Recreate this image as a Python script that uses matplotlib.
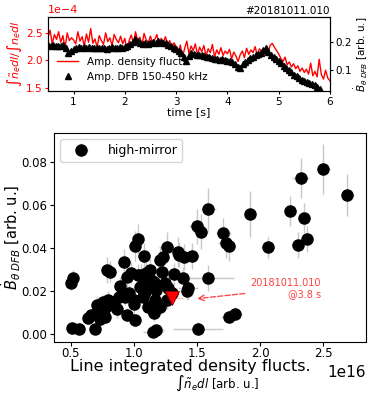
import matplotlib
matplotlib.use("Agg")
import matplotlib.pyplot as plt
import numpy as np

# --- panel superior: series temporales (#20181011.010) ---
# amplitud fluct. densidad (unidades 1e-4), muestreo uniforme 0.5 - 6.0 s
dens_amp = [2.42, 2.55, 2.30, 2.47, 2.38, 2.52, 2.33, 2.45, 2.22, 2.50, 2.36, 2.41,
            2.37, 2.30, 2.52, 2.35, 2.43, 2.26, 2.48, 2.33, 2.58, 2.31, 2.39, 2.24,
            2.45, 2.36, 2.29, 2.50, 2.34, 2.41, 2.27, 2.47, 2.38, 2.32, 2.44, 2.30,
            2.40, 2.18, 2.36, 2.46, 2.31, 2.52, 2.35, 2.42, 2.28, 2.49, 2.37, 2.33,
            2.44, 2.30, 2.38, 2.47, 2.26, 2.40, 2.33, 2.43, 2.29, 2.36, 2.21, 2.32,
            2.25, 2.15, 2.28, 2.05, 2.22, 2.35, 2.12, 2.26, 2.18, 2.30, 2.10, 2.24,
            2.16, 2.27, 2.08, 2.21, 2.14, 2.29, 2.06, 2.19, 2.11, 2.23, 2.09, 2.17,
            2.12, 2.20, 2.03, 2.15, 2.08, 1.98, 2.10, 2.17, 2.05, 2.22, 2.11, 2.19,
            2.14, 2.25, 2.09, 2.21, 2.17, 2.08, 2.20, 2.13, 2.27, 2.31, 2.24, 2.18,
            2.12, 2.04, 1.98, 2.06, 1.92, 1.97, 1.88, 1.94, 1.85, 1.90, 1.80, 1.86,
            1.78, 1.84, 1.75, 1.95, 1.72, 1.80, 1.70, 2.02, 1.74, 1.66, 1.82, 1.68, 1.63]
t_dens = np.linspace(0.5, 6.0, len(dens_amp))

# amplitud DFB 150-450 kHz, cada 0.05 s de 0.5 a 5.8 s
dfb_amp = [0.188, 0.186, 0.190, 0.184, 0.187, 0.185, 0.189, 0.178, 0.162, 0.168,
           0.174, 0.178, 0.182, 0.180, 0.183, 0.179, 0.181, 0.177, 0.180, 0.178,
           0.180, 0.177, 0.179, 0.176, 0.178, 0.181, 0.177, 0.180, 0.182, 0.179,
           0.183, 0.186, 0.192, 0.200, 0.210, 0.205, 0.196, 0.193, 0.197, 0.194,
           0.198, 0.201, 0.196, 0.203, 0.199, 0.195, 0.197, 0.190, 0.186, 0.180,
           0.175, 0.168, 0.160, 0.145, 0.132, 0.150, 0.160, 0.158, 0.155, 0.153,
           0.155, 0.150, 0.148, 0.146, 0.144, 0.140, 0.138, 0.136, 0.139, 0.135,
           0.133, 0.131, 0.128, 0.120, 0.112, 0.106, 0.120, 0.130, 0.136, 0.142,
           0.148, 0.153, 0.158, 0.162, 0.170, 0.180, 0.165, 0.155, 0.148, 0.140,
           0.132, 0.125, 0.116, 0.108, 0.100, 0.092, 0.084, 0.078, 0.072, 0.066,
           0.062, 0.058, 0.054, 0.050, 0.046, 0.040, 0.033]
t_dfb = np.linspace(0.5, 5.8, len(dfb_amp))

# --- panel inferior: base de datos high-mirror (x en unidades de 1e16) ---
mx = [0.50, 0.52, 0.51, 0.57, 0.69, 0.64, 0.66, 0.71, 0.72, 0.74, 0.73, 0.76, 0.78, 0.77,
      0.79, 0.81, 0.80, 0.84, 0.87, 0.89, 0.88, 0.92, 0.93, 0.95, 0.96, 0.95, 0.98, 1.00,
      1.01, 1.00, 1.01, 1.03, 1.03, 1.05, 1.06, 1.07, 1.08, 1.09, 1.10, 1.10, 1.11, 1.08,
      1.13, 1.13, 1.14, 1.15, 1.16, 1.17, 1.18, 1.16, 1.15, 1.18, 1.21, 1.23, 1.22, 1.21,
      1.25, 1.26, 1.26, 1.27, 1.30, 1.32, 1.35, 1.36, 1.39, 1.40, 1.43, 1.42, 1.46, 1.50,
      1.53, 1.59, 1.59, 1.51, 1.71, 1.73, 1.75, 1.75, 1.80, 1.92, 2.06, 2.24, 2.32, 2.35,
      2.30, 2.37, 2.50, 2.69]
my = [0.0236, 0.0260, 0.0027, 0.0025, 0.0023, 0.0075, 0.0088, 0.0135, 0.0120, 0.0098,
      0.0070, 0.0150, 0.0126, 0.0080, 0.0298, 0.0290, 0.0158, 0.0150, 0.0115, 0.0224,
      0.0174, 0.0337, 0.0174, 0.0089, 0.0190, 0.0265, 0.0284, 0.0158, 0.0065, 0.0140,
      0.0410, 0.0443, 0.0275, 0.0220, 0.0275, 0.0174, 0.0363, 0.0197, 0.0284, 0.0228,
      0.0127, 0.0190, 0.0298, 0.0127, 0.0252, 0.0112, 0.0244, 0.0158, 0.0205, 0.0100,
      0.0011, 0.0019, 0.0345, 0.0360, 0.0290, 0.0127, 0.0236, 0.0407, 0.0158, 0.0215,
      0.0190, 0.0280, 0.0384, 0.0370, 0.0260, 0.0357, 0.0213, 0.0200, 0.0362, 0.0501,
      0.0477, 0.0582, 0.0260, 0.0025, 0.0469, 0.0425, 0.0410, 0.0080, 0.0094, 0.0559,
      0.0404, 0.0573, 0.0728, 0.0542, 0.0413, 0.0444, 0.0770, 0.0648]
mxerr = [0.01, 0.01, 0.02, 0.02, 0.02, 0.03, 0.03, 0.03, 0.03, 0.03, 0.03, 0.03, 0.03, 0.03,
         0.03, 0.03, 0.03, 0.03, 0.04, 0.04, 0.04, 0.04, 0.04, 0.04, 0.04, 0.04, 0.04, 0.04,
         0.04, 0.04, 0.04, 0.04, 0.04, 0.05, 0.05, 0.05, 0.05, 0.05, 0.05, 0.05, 0.05, 0.05,
         0.05, 0.05, 0.05, 0.05, 0.05, 0.05, 0.05, 0.05, 0.08, 0.06, 0.05, 0.05, 0.05, 0.05,
         0.06, 0.06, 0.06, 0.06, 0.06, 0.06, 0.06, 0.06, 0.12, 0.06, 0.08, 0.06, 0.06, 0.06,
         0.06, 0.06, 0.20, 0.20, 0.06, 0.06, 0.06, 0.06, 0.06, 0.05, 0.05, 0.05, 0.07, 0.05,
         0.05, 0.05, 0.05, 0.05]
myerr = [0.003, 0.004, 0.002, 0.002, 0.002, 0.003, 0.003, 0.004, 0.003, 0.003, 0.003, 0.003,
         0.004, 0.003, 0.006, 0.005, 0.004, 0.004, 0.004, 0.004, 0.004, 0.006, 0.004, 0.003,
         0.004, 0.005, 0.005, 0.004, 0.003, 0.004, 0.007, 0.007, 0.005, 0.005, 0.005, 0.004,
         0.006, 0.004, 0.005, 0.004, 0.004, 0.004, 0.005, 0.004, 0.005, 0.004, 0.005, 0.004,
         0.004, 0.004, 0.002, 0.002, 0.006, 0.006, 0.005, 0.004, 0.005, 0.007, 0.004, 0.005,
         0.004, 0.005, 0.007, 0.006, 0.005, 0.006, 0.005, 0.004, 0.006, 0.008, 0.008, 0.010,
         0.006, 0.003, 0.007, 0.007, 0.007, 0.003, 0.003, 0.0105, 0.005, 0.007, 0.0093, 0.007,
         0.006, 0.006, 0.0116, 0.0099]

# descarga actual @3.8 s
cur_x, cur_y, cur_xerr = 1.30, 0.0166, 0.10

E16 = 1e16

fig = plt.figure(figsize=(3.69, 3.93), dpi=100)

# Panel superior
ax1 = fig.add_axes([0.130, 0.768, 0.764, 0.189])
ax1.plot(t_dens, np.array(dens_amp) * 1e-4, color="red", lw=1, label="Amp. density flucts.")
ax1.set_xlim(0.5, 6)
ax1.set_ylim(1.44e-4, 2.79e-4)
ax1.set_yticks([1.5e-4, 2.0e-4, 2.5e-4])
ax1.ticklabel_format(axis="y", style="sci", scilimits=(-4, -4))
ax1.tick_params(length=2.5, pad=1.5, labelsize=7.5)
ax1.tick_params(axis="y", colors="red")
ax1.yaxis.get_offset_text().set_color("red")
ax1.yaxis.get_offset_text().set_fontsize(8)
ax1.set_ylabel(r"$\int\tilde{n}_e dl/\int n_e dl$", color="red", fontsize=8, labelpad=1)
ax1.set_xlabel("time [s]", fontsize=8, labelpad=0)
ax1.set_title("#20181011.010", loc="right", fontsize=7.5, pad=2)

ax2 = ax1.twinx()
ax2.plot(t_dfb, dfb_amp, "^", color="black", ms=4, label="Amp. DFB 150-450 kHz")
ax2.set_ylim(0.025, 0.289)
ax2.set_yticks([0.1, 0.2])
ax2.tick_params(length=2.5, pad=1.5, labelsize=7.5)
ax2.set_ylabel(r"$\dot{B}_{\theta\ DFB}$ [arb. u.]", fontsize=7.5, labelpad=1)

h1, l1 = ax1.get_legend_handles_labels()
h2, l2 = ax2.get_legend_handles_labels()
ax2.legend(h1 + h2, l1 + l2, loc="lower left", frameon=False, fontsize=7.5)

# Panel inferior
ax = fig.add_axes([0.146, 0.130, 0.846, 0.532])
ax.errorbar(np.array(mx) * E16, my, xerr=np.array(mxerr) * E16, yerr=myerr, fmt="o",
            color="black", ms=8, ecolor="#c8c8c8", elinewidth=1, label="high-mirror")
ax.errorbar([cur_x * E16], [cur_y], xerr=[cur_xerr * E16], fmt="v", color="red", ms=10,
            mec="#800000", mew=0.5, ecolor="#ffc0c0", elinewidth=1)
ax.annotate("", xy=(1.48 * E16, 0.0163), xytext=(1.90 * E16, 0.0190),
            arrowprops=dict(arrowstyle="->", ls="--", color="red", alpha=0.7, lw=1))
ax.text(2.48 * E16, 0.0212, "20181011.010\n@3.8 s", color="#ff4040", fontsize=7,
        ha="right", va="center", multialignment="right")
ax.set_xlim(0.368 * E16, 2.838 * E16)
ax.set_ylim(-0.0037, 0.0937)
ax.set_xticks(np.array([0.5, 1.0, 1.5, 2.0, 2.5]) * E16)
ax.set_yticks([0.0, 0.02, 0.04, 0.06, 0.08])
ax.tick_params(length=3, labelsize=8.5)
ax.tick_params(axis="x", pad=1)
ax.tick_params(axis="y", pad=2)
ax.xaxis.get_offset_text().set_fontsize(11)
ax.set_xlabel("Line integrated density flucts.", fontsize=11.5)
ax.xaxis.set_label_coords(0.436, -0.118)
ax.xaxis.label.set_va("center")
ax.text(0.522, -0.199, r"$\int\tilde{n}_e dl$ [arb. u.]", transform=ax.transAxes,
        ha="center", va="center", fontsize=8.5)
ax.set_ylabel(r"$\dot{B}_{\theta\ DFB}$ [arb. u.]", fontsize=10.5)
ax.yaxis.set_label_coords(-0.1, 0.5)
ax.legend(loc="upper left", fontsize=9, handlelength=2.6)

fig.savefig("out.png", dpi=100)
